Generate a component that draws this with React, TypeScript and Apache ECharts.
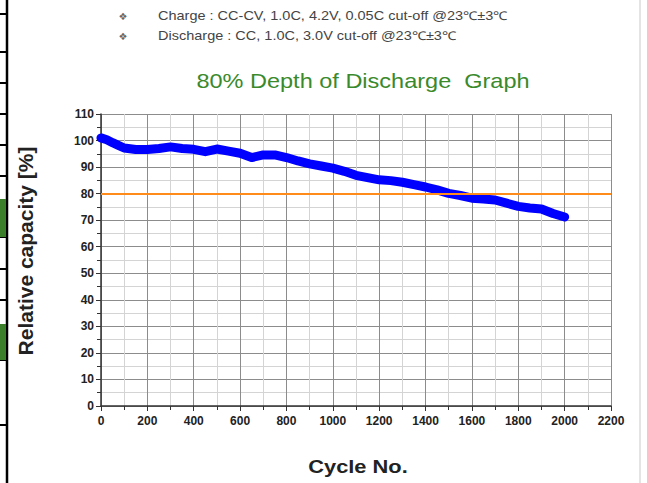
import React, { useEffect, useRef } from "react";
import * as echarts from "echarts";

const cycles = [0, 25, 50, 75, 100, 150, 200, 250, 300, 350, 400, 450, 500, 550, 600, 650, 700, 750, 800, 850, 900, 950, 1000, 1050, 1100, 1150, 1200, 1250, 1300, 1350, 1400, 1450, 1500, 1550, 1600, 1650, 1700, 1750, 1800, 1850, 1900, 1950, 2000];
const capacity = [101, 100.3, 99.2, 98.2, 97.2, 96.6, 96.6, 97.0, 97.6, 97.0, 96.7, 95.8, 96.8, 96.0, 95.2, 93.6, 94.6, 94.6, 93.6, 92.3, 91.2, 90.4, 89.6, 88.4, 86.9, 86.0, 85.2, 84.9, 84.3, 83.4, 82.5, 81.4, 80.1, 79.3, 78.3, 78.0, 77.6, 76.4, 75.2, 74.6, 74.2, 72.5, 71.2];
const thresholdValue = 80;
const conditionLines = [
  "Charge : CC-CV, 1.0C, 4.2V, 0.05C cut-off @23\u2103\u00b13\u2103",
  "Discharge : CC, 1.0C, 3.0V cut-off @23\u2103\u00b13\u2103",
];
const titleText = "80% Depth of Discharge  Graph";
const yAxisName = "Relative capacity [%]";
const xAxisName = "Cycle No.";

const sideTicks = [14, 52, 83, 114, 145, 176, 237, 269, 300, 360, 425];
const greenBlocks = [[199, 237], [324, 360]];

export default function App() {
  const ref = useRef<HTMLDivElement>(null);
  useEffect(() => {
    if (!ref.current) return;
    const chart = echarts.init(ref.current, null, { renderer: "svg" });
    const font = "'Liberation Sans', Arial, sans-serif";
    const graphics: any[] = [];
    graphics.push({ type: "line", shape: { x1: 7, y1: 0, x2: 7, y2: 483 }, style: { stroke: "#000", lineWidth: 2.5 } });
    sideTicks.forEach((y) => {
      graphics.push({ type: "line", shape: { x1: 0, y1: y, x2: 7, y2: y }, style: { stroke: "#000", lineWidth: 2 } });
    });
    greenBlocks.forEach(([a, b]) => {
      graphics.push({ type: "rect", shape: { x: 0, y: a, width: 6, height: b - a }, style: { fill: "#3b7f2b" } });
    });
    graphics.push({ type: "line", shape: { x1: 640, y1: 0, x2: 640, y2: 483 }, style: { stroke: "#e4e4e4", lineWidth: 2 } });
    conditionLines.forEach((t, i) => {
      graphics.push({ type: "text", x: 123, y: 16 + i * 20, style: { text: "\u2756", fill: "#666", font: "10px 'DejaVu Sans'", align: "center", verticalAlign: "middle" } });
      graphics.push({ type: "text", x: 158, y: 16 + i * 20, scaleX: 1.21, style: { text: t, fill: "#444", font: "12px " + font, align: "left", verticalAlign: "middle" } });
    });
    graphics.push({ type: "text", x: 363, y: 81, scaleX: 1.12, style: { text: titleText, fill: "#3a8a2c", font: "21px " + font, align: "center", verticalAlign: "middle" } });
    graphics.push({ type: "text", x: 25, y: 251, rotation: Math.PI / 2, style: { text: yAxisName, fill: "#222", font: "bold 21px " + font, align: "center", verticalAlign: "middle" } });
    graphics.push({ type: "text", x: 358, y: 466, scaleX: 1.15, style: { text: xAxisName, fill: "#222", font: "bold 19px " + font, align: "center", verticalAlign: "middle" } });

    const labelStyle = { color: "#222", fontSize: 12, fontWeight: "bold", fontFamily: font };
    chart.setOption({
      animation: false,
      backgroundColor: "#fff",
      grid: { left: 101, top: 114, width: 510, height: 292, containLabel: false },
      xAxis: {
        type: "value",
        min: 0,
        max: 2200,
        interval: 200,
        axisLine: { show: true, lineStyle: { color: "#333", width: 1.5 } },
        axisTick: { show: true, length: 5, lineStyle: { color: "#333" } },
        minorTick: { show: true, splitNumber: 2, length: 4, lineStyle: { color: "#333" } },
        splitLine: { show: true, lineStyle: { color: "#8c8c8c", width: 1 } },
        minorSplitLine: { show: true, lineStyle: { color: "#d4d4d4", width: 1 } },
        axisLabel: { ...labelStyle, margin: 9, formatter: (v: number) => String(v) },
      },
      yAxis: {
        type: "value",
        min: 0,
        max: 110,
        interval: 10,
        axisLine: { show: true, lineStyle: { color: "#333", width: 1.5 } },
        axisTick: { show: true, length: 5, lineStyle: { color: "#333" } },
        minorTick: { show: true, splitNumber: 2, length: 4, lineStyle: { color: "#333" } },
        splitLine: { show: true, lineStyle: { color: "#8c8c8c", width: 1 } },
        minorSplitLine: { show: true, lineStyle: { color: "#d4d4d4", width: 1 } },
        axisLabel: { ...labelStyle, margin: 7, formatter: (v: number) => String(v) },
      },
      graphic: graphics,
      series: [
        {
          type: "line",
          data: cycles.map((c, i) => [c, capacity[i]]),
          symbol: "none",
          lineStyle: { color: "#0000ff", width: 9, cap: "round", join: "round" },
          z: 3,
          markLine: {
            silent: true,
            symbol: "none",
            label: { show: false },
            lineStyle: { color: "#ff8c1a", width: 2, type: "solid" },
            data: [{ yAxis: thresholdValue }],
            z: 4,
          },
        },
      ],
    });
    return () => chart.dispose();
  }, []);
  return <div ref={ref} style={{ position: "fixed", left: 0, top: 0, width: 647, height: 483 }} />;
}
